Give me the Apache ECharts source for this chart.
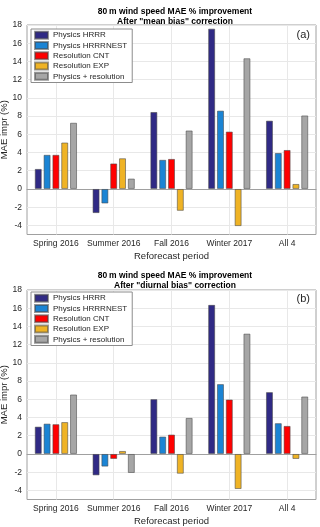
<!DOCTYPE html>
<html><head><meta charset="utf-8">
<script src="https://cdn.jsdelivr.net/npm/echarts@6/dist/echarts.min.js"></script>
<style>html,body{margin:0;padding:0;background:#fff}#c{width:320px;height:527px}</style>
</head><body><div id="c"></div>
<script>
const categories = ['Spring 2016', 'Summer 2016', 'Fall 2016', 'Winter 2017', 'All 4'];
const seriesNames = ['Physics HRRR', 'Physics HRRRNEST', 'Resolution CNT', 'Resolution EXP', 'Physics + resolution'];
// Panel (a): after "mean bias" correction
const meanHRRR = [2.2, -2.65, 8.45, 17.6, 7.5];
const meanHRRRNEST = [3.75, -1.6, 3.2, 8.6, 3.95];
const meanCNT = [3.75, 2.8, 3.3, 6.3, 4.28];
const meanEXP = [5.1, 3.37, -2.4, -4.08, 0.55];
const meanPhysRes = [7.27, 1.14, 6.42, 14.35, 8.07];
// Panel (b): after "diurnal bias" correction
const diurHRRR = [3.0, -2.35, 6.02, 16.37, 6.79];
const diurHRRRNEST = [3.33, -1.39, 1.91, 7.67, 3.38];
const diurCNT = [3.27, -0.55, 2.13, 5.98, 3.08];
const diurEXP = [3.5, 0.33, -2.17, -3.85, -0.55];
const diurPhysRes = [6.53, -2.09, 3.96, 13.21, 6.31];
const yTicks = [-4, -2, 0, 2, 4, 6, 8, 10, 12, 14, 16, 18];

const colors = ['#302a85', '#1b84d4', '#ff0000', '#efb325', '#a6a6a6'];
const FONT = 'Liberation Sans';

const panels = [
  {top: 25, data: [meanHRRR, meanHRRRNEST, meanCNT, meanEXP, meanPhysRes],
   title: '80\u2009m wind speed MAE % improvement\nAfter "mean bias" correction', titleTop: 2, tag: '(a)', tagTop: 29, legendTop: 29},
  {top: 290, data: [diurHRRR, diurHRRRNEST, diurCNT, diurEXP, diurPhysRes],
   title: '80\u2009m wind speed MAE % improvement\nAfter "diurnal bias" correction', titleTop: 266, tag: '(b)', tagTop: 293, legendTop: 292}
];

const grid = [], xAxis = [], yAxis = [], series = [], legend = [], title = [], graphic = [];
panels.forEach((p, gi) => {
  grid.push({left: 27, right: 4, top: p.top, height: 209.5, containLabel: false, outerBoundsMode: 'none',
    show: true, borderColor: '#a0a0a0', borderWidth: 1, backgroundColor: '#fff'});
  xAxis.push({
    type: 'category', gridIndex: gi, data: categories, position: 'bottom',
    axisLine: {show: false, onZero: false}, axisTick: {show: false},
    axisLabel: {fontFamily: FONT, fontSize: 8.5, color: '#262626', margin: 5, interval: 0, hideOverlap: false},
    splitLine: {show: false},
    name: 'Reforecast period', nameLocation: 'middle', nameGap: 17, nameMoveOverlap: false,
    nameTextStyle: {fontFamily: FONT, fontSize: 9.5, color: '#262626'}
  });
  xAxis.push({
    type: 'value', gridIndex: gi, min: 0, max: 10, interval: 1, position: 'bottom',
    axisLine: {show: true, onZero: true, lineStyle: {color: '#a0a0a0', width: 1}},
    axisTick: {show: false}, axisLabel: {show: false},
    splitLine: {show: true, lineStyle: {color: ['rgba(0,0,0,0)', '#e8e8e8'], width: 1}}
  });
  yAxis.push({
    type: 'value', gridIndex: gi, min: -5, max: 18, interval: 1,
    axisLine: {show: false}, axisTick: {show: false},
    axisLabel: {fontFamily: FONT, fontSize: 8.5, color: '#262626', margin: 5,
      formatter: v => (yTicks.indexOf(v) >= 0 ? String(v) : '')},
    splitLine: {show: true, lineStyle: {color: ['rgba(0,0,0,0)', '#e8e8e8'], width: 1}},
    name: 'MAE impr (%)', nameLocation: 'middle', nameGap: 18, nameMoveOverlap: false,
    nameTextStyle: {fontFamily: FONT, fontSize: 9.5, color: '#262626'}
  });
  p.data.forEach((vals, si) => {
    series.push({
      type: 'bar', name: seriesNames[si], xAxisIndex: gi * 2, yAxisIndex: gi,
      data: vals, barWidth: 7, barGap: '26%', z: 3,
      itemStyle: {color: colors[si], borderColor: 'rgba(70,70,70,0.55)', borderWidth: 1},
      emphasis: {disabled: true}
    });
  });
  legend.push({
    left: 31, top: p.legendTop, orient: 'vertical', data: seriesNames,
    icon: 'rect', itemWidth: 13, itemHeight: 7, itemGap: 0,
    backgroundColor: '#fff', borderColor: '#8c8c8c', borderWidth: 1, padding: [1, 5, 1, 3],
    textStyle: {fontFamily: FONT, fontSize: 8, color: '#262626', lineHeight: 10.3},
    selectedMode: false
  });
  title.push({
    text: p.title, left: 170, textAlign: 'center', top: p.titleTop,
    textStyle: {fontFamily: FONT, fontSize: 8.5, fontWeight: 'bold', color: '#000', lineHeight: 10}
  });
  graphic.push({
    type: 'text', right: 10, top: p.tagTop,
    style: {text: p.tag, fontFamily: FONT, fontSize: 11, fill: '#262626'}
  });
});

const chart = echarts.init(document.getElementById('c'), null, {renderer: 'canvas'});
chart.setOption({animation: false, backgroundColor: '#fff', grid, xAxis, yAxis, series, legend, title, graphic});
</script>
</body></html>
